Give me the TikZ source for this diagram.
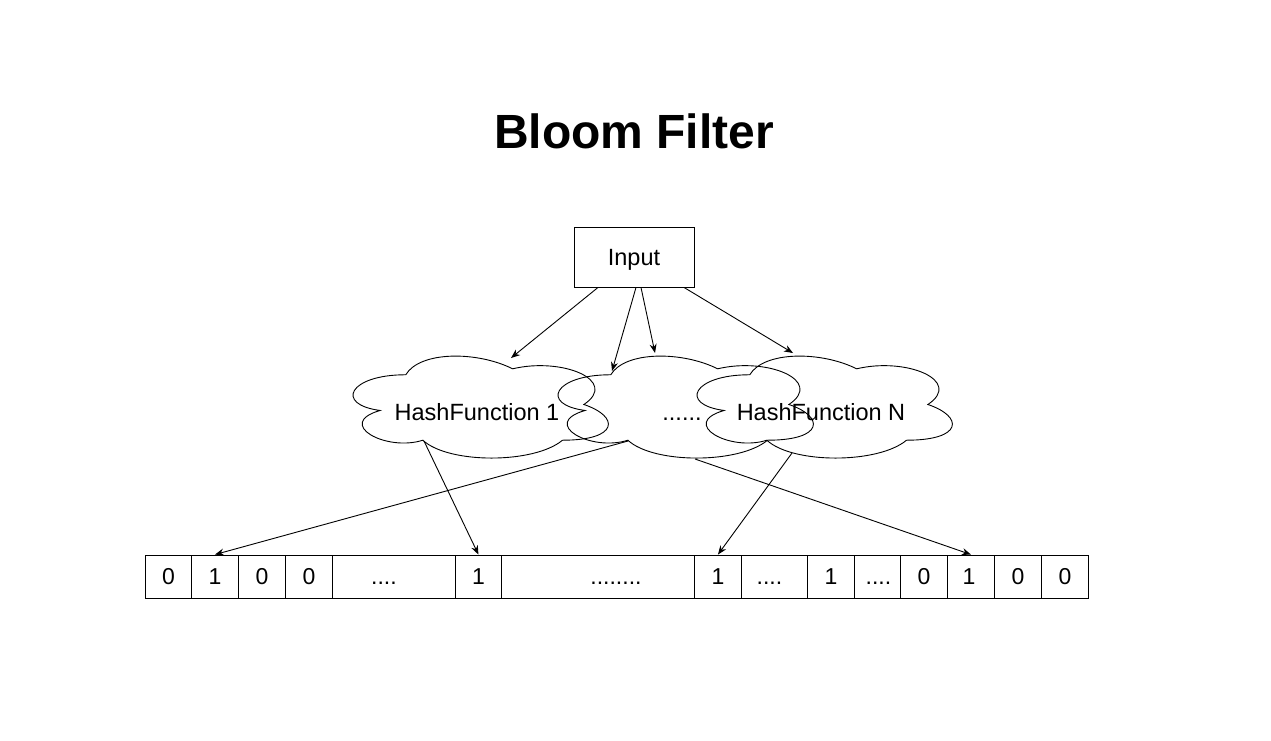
\documentclass[tikz,border=0pt]{standalone}
\usepackage{fontspec}
\setmainfont{Liberation Sans}
\usetikzlibrary{arrows.meta, calc}

\newcommand{\bitgap}{....}
\newcommand{\bitgaplong}{........}
% cloud outline drawn round a named hash node
\newcommand{\cloudoutline}[1]{%
  \draw[shift={(#1.north west)}, x=285pt, y=-119pt]
    (0.25,0.25) .. controls (0.05,0.25) and (0,0.5) .. (0.16,0.55)
    .. controls (0,0.66) and (0.18,0.9) .. (0.31,0.8)
    .. controls (0.4,1) and (0.7,1) .. (0.8,0.8)
    .. controls (1,0.8) and (1,0.6) .. (0.875,0.5)
    .. controls (1,0.3) and (0.8,0.1) .. (0.625,0.2)
    .. controls (0.5,0.05) and (0.3,0.05) .. (0.25,0.25) -- cycle;}

\tikzset{
  hashnode/.style={minimum width=285, minimum height=119, inner sep=0pt, outer sep=0pt,
    text height=31pt, text depth=0pt, font=\fontsize{23.5}{28}\selectfont},
  inbox/.style={draw, minimum width=120, minimum height=60, inner sep=0pt,
    text height=17pt, text depth=0pt, font=\fontsize{23.5}{28}\selectfont},
  bitcell/.style={draw, minimum height=43, inner sep=0pt, anchor=west},
  bittext/.style={inner sep=0pt, text height=16.5pt, text depth=0pt,
    font=\fontsize{23}{28}\selectfont},
  hasharrow/.style={-{Stealth[length=9pt,width=7pt]}, line width=0.9pt},
}

\begin{document}
\begin{tikzpicture}[x=1pt, y=-1pt, line width=0.9pt]
  \fill[white] (0,0) rectangle (1271,740);
  \useasboundingbox (0,0) rectangle (1271,740);

  \node[font=\fontsize{48}{56}\selectfont\bfseries] (title) at (634,131) {Bloom Filter};

  \node[inbox] (input) at (634,257) {Input};

  % hash functions
  \node[hashnode] (h1) at (477,404.5) {HashFunction 1};
  \node[hashnode] (hmid) at (682,404.5) {......};
  \node[hashnode] (hn) at (821,404.5) {HashFunction N};
  \cloudoutline{h1}
  \cloudoutline{hmid}
  \cloudoutline{hn}

  % bit array: left edge / width / bit / text shift
  \foreach \x/\w/\b/\s [count=\i] in {145/46/0/0, 191/47/1/0, 238/47/0/0, 285/47/0/0,
      332/123/\bitgap/-10, 455/46/1/0, 501/193/\bitgaplong/18, 694/47/1/0,
      741/66/\bitgap/-5, 807/47/1/0, 854/46/\bitgap/1, 900/47/0/0, 947/47/1/-2,
      994/47/0/0, 1041/47/0/0}
  {
    \node[bitcell, minimum width=\w] (c\i) at (\x,576.5) {};
    \node[bittext, xshift=\s] (t\i) at (c\i) {\b};
  }

  % input to hash functions
  \draw[hasharrow] ([xshift=-36pt]input.south) -- ($(h1)+(34,-46.5)$);
  \draw[hasharrow] ([xshift=2pt]input.south) -- ($(hmid)+(-70,-33.5)$);
  \draw[hasharrow] ([xshift=7pt]input.south) -- ($(hmid)+(-27,-51.5)$);
  \draw[hasharrow] ([xshift=50pt]input.south) -- ($(hn)+(-28,-51.5)$);

  % hash functions to bits
  \draw[hasharrow] ($(h1)+(-53,36.5)$) -- (c6.north);
  \draw[hasharrow] ($(hmid)+(-54,36.5)$) -- (c2.north);
  \draw[hasharrow] ($(hmid)+(13,54.5)$) -- (c13.north);
  \draw[hasharrow] ($(hn)+(-29,48.5)$) -- (c8.north);
\end{tikzpicture}
\end{document}
